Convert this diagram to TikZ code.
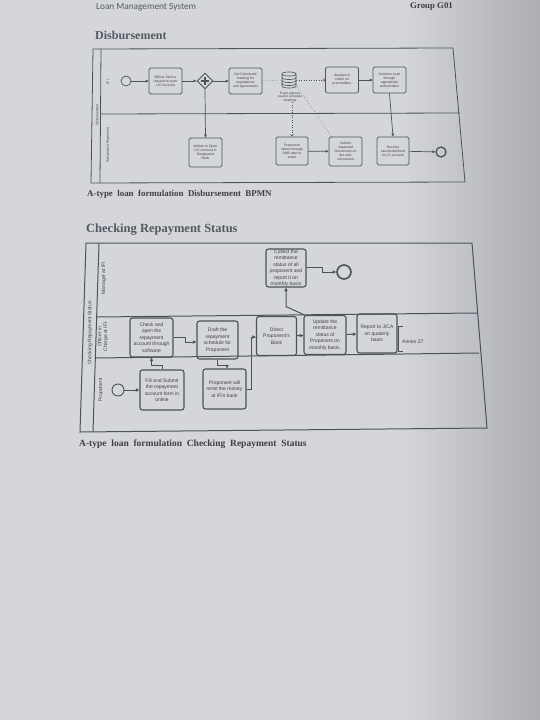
\documentclass[tikz,border=0pt]{standalone}
\usepackage{fontspec}
\setmainfont{Liberation Serif}
\setsansfont{Liberation Sans}
\newfontfamily\hdrfont{Carlito}
\usetikzlibrary{shapes.geometric,arrows.meta,calc}
\definecolor{paper}{RGB}{212,214,218}
\definecolor{paperdark}{RGB}{172,174,180}
\definecolor{ink}{RGB}{76,81,90}
\definecolor{txt}{RGB}{62,64,70}
\definecolor{headc}{RGB}{84,88,96}
\tikzset{
  task/.style={draw=ink, rounded corners=1.6pt, line width=0.7pt, align=center,
    font=\sffamily\fontsize{3.4}{4}\selectfont, text=txt, inner sep=0pt,
    minimum width=33pt, minimum height=26pt},
  taskb/.style={draw=ink, rounded corners=2.5pt, line width=1.1pt, align=center,
    font=\sffamily\fontsize{5}{6.5}\selectfont, text=txt, inner sep=0pt,
    minimum width=42pt, minimum height=39pt},
  seqflow/.style={draw=ink, line width=0.7pt, -{Triangle[length=3pt,width=2.6pt]}},
  seqflowb/.style={draw=ink, line width=1pt, -{Triangle[length=3.6pt,width=3.2pt]}},
  assoc/.style={draw=ink, line width=0.5pt, dotted},
  startev/.style={circle, draw=ink, line width=0.7pt, minimum size=10pt, inner sep=0pt},
  endev/.style={circle, draw=ink, line width=1.3pt, minimum size=10pt, inner sep=0pt},
  lanelbl/.style={rotate=90, font=\sffamily\fontsize{3.5}{4}\selectfont, text=txt, align=center},
  lanelblb/.style={rotate=90, font=\sffamily\fontsize{5}{5.6}\selectfont, text=txt, align=center},
  pool/.style={draw=ink, line width=0.8pt},
  poolb/.style={draw=ink, line width=1pt},
}
\begin{document}
\begin{tikzpicture}[x=1pt,y=-1pt]
\useasboundingbox (0,0) rectangle (540,720);
\fill[paper] (0,0) rectangle (540,720);
\shade[left color=paper, right color=paperdark] (400,0) rectangle (540,720);

% header
\node[anchor=west, font=\hdrfont\fontsize{9.3}{10}\selectfont, text=headc, inner sep=0] (hdr) at (96,7) {Loan Management System};
\node[anchor=west, font=\bfseries\fontsize{8.8}{10}\selectfont, text=txt, inner sep=0] (grp) at (410,7) {Group G01};
\node[anchor=west, font=\bfseries\fontsize{12}{14}\selectfont, text=headc, inner sep=0] (h1) at (95,35) {Disbursement};

% ===== Diagram 1 =====
\draw[pool] (93,49) -- (453,48) -- (465,182) -- (91,183) -- cycle;
\draw[pool] (101,49) -- (100,183);
\draw[pool] (101,114) -- (460,113);
\node[lanelbl] (p1) at (97,115) {Disbursement};
\node[lanelbl] (l1a) at (108,82) {IFI};
\node[lanelbl] (l1b) at (108,145) {Sub-project Proponent};

\node[startev] (s1) at (126,81) {};
\node[task] (t1) at (165.5,81) {Officer Send a\\request to open\\L/C Account};
\node[diamond, draw=ink, line width=0.9pt, minimum width=16pt, minimum height=16pt, inner sep=0pt] (g1) at (205,81) {};
\draw[ink, line width=1.7pt] ($(g1.center)+(-4.2,0)$) -- ($(g1.center)+(4.2,0)$);
\draw[ink, line width=1.7pt] ($(g1.center)+(0,-4.2)$) -- ($(g1.center)+(0,4.2)$);
\node[task] (t2) at (245.5,81) {Set Scheduled\\meeting for\\negotiations\\and agreements};
\node[minimum width=14pt, minimum height=16pt, inner sep=0pt] (db) at (289,80) {};
\begin{scope}[shift={(db.center)}, ink, line width=0.6pt]
  \draw (-7,-6) -- (-7,6) .. controls (-7,8.7) and (7,8.7) .. (7,6) -- (7,-6) .. controls (7,-8.7) and (-7,-8.7) .. (-7,-6) -- cycle;
  \draw (-7,-6) .. controls (-7,-3.3) and (7,-3.3) .. (7,-6);
  \draw (-7,-2.5) .. controls (-7,0.2) and (7,0.2) .. (7,-2.5);
  \draw (-7,0.5) .. controls (-7,3.2) and (7,3.2) .. (7,0.5);
  \draw (-7,3.5) .. controls (-7,6.2) and (7,6.2) .. (7,3.5);
\end{scope}
\node[align=center, font=\sffamily\fontsize{3.2}{3.8}\selectfont, text=txt, inner sep=0pt] (dbl) at (290,97) {Event planner\\used to schedule\\meetings};
\node[task] (t3) at (342,80) {Analysis \&\\check on\\precondition};
\node[task] (t4) at (389.5,80) {Sanction Loan\\through\\appropriate\\authorization};

\node[task, minimum height=29pt] (t5) at (205.5,152.5) {Written to Open\\L/C Account in\\Designated\\Bank};
\node[task, minimum width=32pt, minimum height=28pt] (t6) at (292,151) {Proponent\\inform through\\SMS alert or\\email};
\node[task, minimum height=29pt] (t7) at (345.5,151.5) {Submit\\requested\\Documents on\\the web\\component};
\node[task, minimum width=32pt, minimum height=28pt] (t8) at (393,151) {Receive\\sanctioned fund\\in L/C account};
\node[endev] (e1) at (441,152) {};

\draw[seqflow] (s1) -- (t1);
\draw[seqflow] (t1) -- (g1);
\draw[seqflow] (g1) -- (t2);
\draw[seqflow] (g1.south) -- (t5.north);
\draw[assoc] (t2.east) -- (db.west);
\draw[assoc, -{Straight Barb[length=2pt,width=3pt]}] (db.east) -- (t3.west);
\draw[assoc, -{Straight Barb[length=2pt,width=3pt]}] (dbl.south -| t6.north) -- (t6.north);
\draw[assoc] ($(t7.north west)+(3,0)$) -- ($(db.south east)+(0,-3)$);
\draw[seqflow] (t6) -- (t7);
\draw[seqflow] (t3) -- (t4);
\draw[seqflow] (t4.south) -- (t8.north);
\draw[seqflow] (t8) -- (e1);

\node[anchor=west, font=\bfseries\fontsize{8.9}{10}\selectfont, text=txt, inner sep=0] (c1) at (87,194) {A-type\ \ loan\ \ formulation\ \ Disbursement\ \ BPMN};

% ===== Diagram 2 =====
\node[anchor=west, font=\bfseries\fontsize{12.5}{14}\selectfont, text=headc, inner sep=0] (h2) at (86,230) {Checking Repayment Status};

\draw[poolb] (86,243) -- (472,243) -- (487,428) -- (80,432) -- cycle;
\draw[poolb] (99,243) -- (93,432);
\draw[poolb] (97,317) -- (477,313);
\draw[poolb] (95,358) -- (479,353);
\node[lanelblb] (p2) at (90,333) {Checking Repayment Status};
\node[lanelblb] (l2a) at (104,278) {Manager at IFI};
\node[lanelblb] (l2b) at (103,337) {Officer in\\Charge at IFI};
\node[lanelblb] (l2c) at (101,390) {Proponent};

\node[startev, line width=0.9pt, minimum size=12pt] (s2) at (118,390) {};
\node[taskb, minimum width=44pt, minimum height=40pt] (u1) at (162,390) {Fill and Submit\\the repayment\\account form in\\online};
\node[taskb, minimum width=43pt] (u2) at (151.5,337.5) {Check and\\open the\\repayment\\account through\\software};
\node[taskb, minimum width=41pt, minimum height=38pt] (u3) at (217.5,340) {Draft the\\repayment\\schedule for\\Proponent};
\node[taskb, minimum width=43pt, minimum height=40pt] (u4) at (224.5,389) {Proponent will\\remit the money\\at IFIs bank};
\node[taskb, minimum width=40pt] (u5) at (276.5,336) {Direct\\Proponent's\\Bank};
\node[taskb] (u6) at (325,335) {Update the\\remittance\\status of\\Proponent on\\monthly basis.};
\node[taskb, minimum width=40pt] (u7) at (377,333.5) {Report to JICA\\on quaterly\\basis};
\node[taskb, minimum width=40pt, minimum height=38pt] (u8) at (286,268) {Collect the\\remittance\\status of all\\proponent and\\report it on\\monthly basis};
\node[endev, line width=1.6pt, minimum size=14pt] (e2) at (344,272) {};

\draw[ink, line width=1pt] (403,326) -- (398,326) -- (398,351) -- (403,351);
\node[anchor=west, font=\sffamily\fontsize{5}{6}\selectfont, text=txt, inner sep=0] (annt) at (402,342) {Annex 27};

\draw[seqflowb] (s2) -- (u1);
\draw[seqflowb] (u1.north) |- ($(u2.south)+(0,8)$) -- (u2.south);
\draw[seqflowb] (u2.east) -- ++(12,0) |- ($(u3.west)+(0,2)$);
\draw[seqflowb] (u3.south) -- ++(0,6) -| ($(u4.north)+(2.5,0)$);
\draw[seqflowb] (u4.east) -- ++(5,0) |- ($(u5.west)+(0,1)$);
\draw[seqflowb] (u5) -- (u6);
\draw[seqflowb] (u6) -- (u7);
\draw[seqflowb] ($(u6.north west)+(1,0)$) -- ($(u8.south)+(0,19)$) -- (u8.south);
\draw[seqflowb] ($(u8.east)+(0,-1)$) -- ++(16,0) |- (e2.west);

\node[anchor=west, font=\bfseries\fontsize{9.5}{11}\selectfont, text=txt, inner sep=0] (c2) at (79,444) {A-type\ \ loan\ \ formulation\ \ Checking\ \ Repayment\ \ Status};
\end{tikzpicture}
\end{document}
